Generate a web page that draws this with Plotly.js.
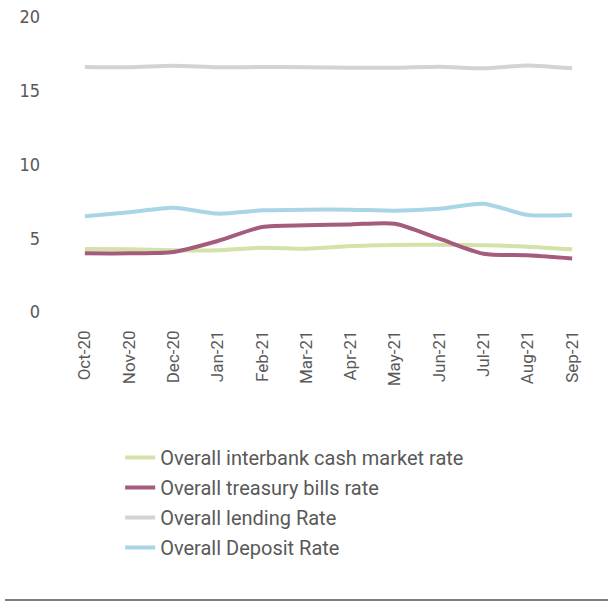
<!DOCTYPE html>
<html><head><meta charset="utf-8">
<script src="https://cdn.plot.ly/plotly-3.0.1.min.js"></script>
<style>html,body{margin:0;padding:0;background:#fff}#chart{width:613px;height:607px}</style>
</head><body><div id="chart"></div>
<script>
const months = ["Oct-20","Nov-20","Dec-20","Jan-21","Feb-21","Mar-21","Apr-21","May-21","Jun-21","Jul-21","Aug-21","Sep-21"];
const interbank = [4.27,4.25,4.18,4.18,4.36,4.29,4.47,4.54,4.56,4.52,4.43,4.25];
const tbills    = [3.98,3.98,4.07,4.81,5.76,5.88,5.94,5.99,4.97,3.95,3.84,3.62];
const lending   = [16.61,16.59,16.70,16.59,16.61,16.59,16.56,16.56,16.63,16.52,16.72,16.52];
const deposit   = [6.49,6.76,7.07,6.67,6.89,6.94,6.94,6.87,7.00,7.34,6.58,6.58];
const yTicks = [0,5,10,15,20];
const names = ["Overall interbank cash market rate","Overall treasury bills rate","Overall lending Rate","Overall Deposit Rate"];
const colors = ["#d3e2a8","#a55b7b","#d3d3d3","#a9d5e6"];
const series = [interbank, tbills, lending, deposit];

const traces = series.map((s,i)=>({
  x: months, y: s, name: names[i], type:'scatter', mode:'lines',
  line:{color:colors[i], width:4, shape:'spline', smoothing:0.7},
  legendgroup:'g'+i
}));

const layout = {
  width:613, height:607,
  margin:{l:45, r:32, t:17, b:295, autoexpand:false},
  paper_bgcolor:'#fff', plot_bgcolor:'#fff',
  showlegend:true,
  font:{family:'Roboto, Arial, sans-serif', color:'#595959'},
  xaxis:{type:'category', range:[-0.9,11.2], tickmode:'array', tickvals:months, showgrid:false, zeroline:false, showline:false,
    tickangle:-90, tickfont:{size:17, color:'#595959'}, ticks:'', ticklabelstandoff:14, fixedrange:true},
  yaxis:{range:[0,20], tickmode:'array', tickvals:yTicks, showgrid:false, zeroline:false, showline:false,
    tickfont:{size:18, family:'"DejaVu Sans Condensed", "Liberation Sans Narrow", Roboto, sans-serif', color:'#595959'}, ticks:'', ticklabelstandoff:4, fixedrange:true},
  legend:{xref:'container', yref:'container', x:0.196, y:0.2784, xanchor:'left', yanchor:'top',
    traceorder:'grouped', tracegroupgap:1, font:{size:20, color:'#595959'}, bgcolor:'rgba(0,0,0,0)'},
  shapes:[{type:'line', xref:'paper', yref:'paper', x0:-0.0746, x1:1.0504, y0:-0.976, y1:-0.976, line:{color:'#555', width:1.5}}]
};
Plotly.newPlot('chart', traces, layout, {displayModeBar:false, staticPlot:true});
</script></body></html>
